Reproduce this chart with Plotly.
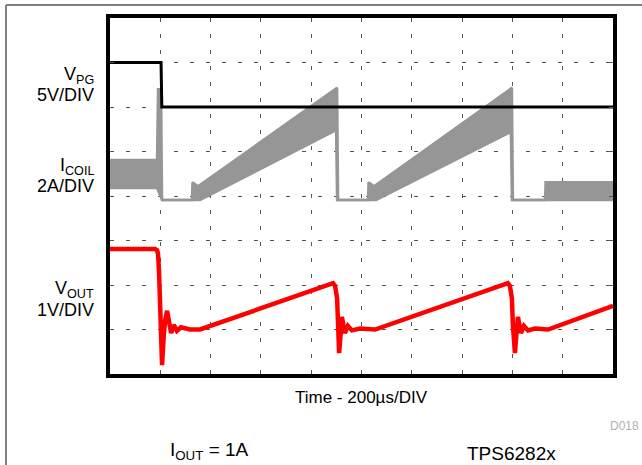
import plotly.graph_objects as go

# Time axis: 200 us/DIV over 10 divisions; vertical axis counted in divisions (8)
T_DIV = 200
N_XDIV = 10
N_YDIV = 8

# V_PG trace (black), 5 V/DIV
vpg_t = [0, 203, 206, 2000]
vpg_div = [7.0, 7.0, 6.0, 6.0]

# I_COIL switching envelope (gray), 2 A/DIV: upper and lower edges of the band
icoil_up_t = [0, 187, 191, 203, 207, 326, 328, 350, 903, 907, 1026, 1028, 1050,
              1598, 1602, 1730, 1732, 2000]
icoil_up_div = [4.81, 4.81, 6.40, 6.40, 3.91, 3.91, 4.31, 4.22, 6.43, 3.91, 3.91,
                4.31, 4.22, 6.43, 3.91, 3.91, 4.31, 4.31]
icoil_lo_t = [0, 187, 207, 358, 899, 903, 1058, 1594, 1598, 2000]
icoil_lo_div = [4.18, 4.18, 3.91, 3.91, 5.48, 3.91, 3.91, 5.44, 3.91, 3.91]

# V_OUT trace (red), 1 V/DIV
vout_t = [0, 179, 187, 191, 195, 199, 203, 207, 213, 219, 227, 235, 243, 254,
          266, 282, 318, 358, 887, 895, 903, 907, 911, 917, 922, 934, 946, 962,
          994, 1054, 1582, 1590, 1598, 1602, 1610, 1616, 1622, 1634, 1646, 1662,
          1690, 1742, 2000]
vout_div = [2.81, 2.81, 2.78, 2.70, 2.30, 1.50, 0.60, 0.20, 0.80, 1.20, 1.42,
            1.10, 0.92, 1.10, 0.97, 1.05, 1.00, 1.00, 2.04, 1.98, 1.70, 1.10,
            0.47, 0.90, 1.28, 0.92, 1.08, 0.98, 1.02, 1.00, 2.04, 1.98, 1.70,
            1.10, 0.47, 0.90, 1.28, 0.92, 1.08, 0.98, 1.02, 1.00, 1.53]

W, H = 642, 465
L, R, T, B = 110, 613, 18, 374   # plot frame in pixels


def px(x):
    return (x - L) / (R - L)


def py(y):
    return (B - y) / (B - T)


FONT = "Liberation Sans, Arial, sans-serif"
GRAY = "#969696"

fig = go.Figure()

fig.add_trace(go.Scatter(x=icoil_lo_t, y=icoil_lo_div, mode="lines",
                         line=dict(color=GRAY, width=2.5), hoverinfo="skip"))
fig.add_trace(go.Scatter(x=icoil_up_t, y=icoil_up_div, mode="lines",
                         line=dict(color=GRAY, width=2.5), fill="tonexty",
                         fillcolor=GRAY, hoverinfo="skip"))
fig.add_trace(go.Scatter(x=vpg_t, y=vpg_div, mode="lines",
                         line=dict(color="black", width=3), hoverinfo="skip"))
fig.add_trace(go.Scatter(x=vout_t, y=vout_div, mode="lines",
                         line=dict(color="#ff0000", width=4.5), hoverinfo="skip"))

axis = dict(showticklabels=False, showline=True, mirror="allticks",
            linecolor="black", linewidth=3.5, ticks="inside", ticklen=4,
            tickcolor="#555555", tickwidth=1, showgrid=True, gridcolor="#555555",
            gridwidth=1, griddash="4px,12px", zeroline=False, fixedrange=True)

fig.update_xaxes(range=[0, T_DIV * N_XDIV], dtick=T_DIV, **axis)
fig.update_yaxes(range=[0, N_YDIV], dtick=1, **axis)

labels = [
    ("V<sub>PG</sub>", 75),
    ("5V/DIV", 95),
    ("I<sub>COIL</sub>", 166),
    ("2A/DIV", 186),
    ("V<sub>OUT</sub>", 289),
    ("1V/DIV", 310),
]
ann = []
for text, y in labels:
    ann.append(dict(text=text, x=px(96), y=py(y), xref="paper", yref="paper",
                    xanchor="right", yanchor="middle", showarrow=False,
                    font=dict(family=FONT, size=18, color="black")))
ann.append(dict(text="Time - 200µs/DIV", x=px(361.5), y=py(397), xref="paper",
                yref="paper", xanchor="center", yanchor="middle", showarrow=False,
                font=dict(family=FONT, size=17, color="black")))
ann.append(dict(text="D018", x=px(641), y=py(426), xref="paper", yref="paper",
                xanchor="right", yanchor="middle", showarrow=False,
                font=dict(family=FONT, size=12, color="#b0b0b0")))
ann.append(dict(text="I<sub>OUT</sub> = 1A", x=px(168), y=py(451), xref="paper",
                yref="paper", xanchor="left", yanchor="middle", showarrow=False,
                font=dict(family=FONT, size=19, color="black")))
ann.append(dict(text="TPS6282x", x=px(465), y=py(453), xref="paper",
                yref="paper", xanchor="left", yanchor="middle", showarrow=False,
                font=dict(family=FONT, size=19, color="black")))

# outer page border (top and left lines)
shapes = [
    dict(type="line", xref="paper", yref="paper", x0=px(6), x1=px(W + 5),
         y0=py(5), y1=py(5), line=dict(color="#808080", width=2)),
    dict(type="line", xref="paper", yref="paper", x0=px(6), x1=px(6),
         y0=py(5), y1=py(H + 5), line=dict(color="#808080", width=2)),
]

fig.update_layout(
    width=W, height=H,
    margin=dict(l=L, r=W - R, t=T, b=H - B),
    paper_bgcolor="white", plot_bgcolor="white",
    showlegend=False,
    annotations=ann, shapes=shapes,
)

fig.write_html("out.html", config={"displayModeBar": False},
               post_script="document.body.style.margin='0px';"
                           "document.body.style.overflow='hidden';")
